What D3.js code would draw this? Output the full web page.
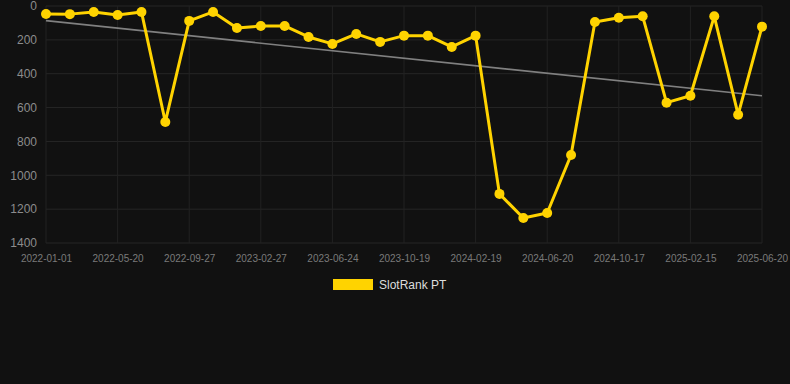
<!DOCTYPE html>
<html>
<head>
<meta charset="utf-8">
<script src="https://cdn.jsdelivr.net/npm/d3@7"></script>
<style>
html,body{margin:0;padding:0;background:#111111;}
svg{display:block;font-family:"Liberation Sans",Arial,Helvetica,sans-serif;}
</style>
</head>
<body>
<svg id="chart" width="790" height="384"></svg>
<script>
const dates = [
  "2022-01-01","2022-02-15","2022-04-02","2022-05-20","2022-07-05","2022-08-16",
  "2022-09-27","2022-11-15","2023-01-10","2023-02-27","2023-04-14","2023-05-30",
  "2023-06-24","2023-08-10","2023-09-15","2023-10-19","2023-12-01","2024-01-10",
  "2024-02-19","2024-03-30","2024-05-10","2024-06-20","2024-08-01","2024-09-10",
  "2024-10-17","2024-11-28","2025-01-05","2025-02-15","2025-03-28","2025-05-10",
  "2025-06-20"
];
const rankValues = [
  47, 48, 35, 53, 35, 685, 88, 35, 130, 118, 118, 183,
  224, 165, 212, 175, 175, 242, 175, 1110, 1252, 1223, 880, 95,
  69, 61, 571, 530, 61, 642, 122
];
const yTicks = [0, 200, 400, 600, 800, 1000, 1200, 1400];
const xTickLabels = dates.filter((d, i) => i % 3 === 0);
const seriesName = "SlotRank PT";

(function () {
const svg = d3.select("#chart");
const pl = 46, pr = 762, pt = 6, pb = 243;

const x = d3.scalePoint().domain(dates).range([pl, pr]);
const y = d3.scaleLinear().domain([0, 1400]).range([pt, pb]);

// grid
const grid = svg.append("g");
grid.selectAll("line.h").data(yTicks).enter().append("line")
  .attr("x1", pl).attr("x2", pr)
  .attr("y1", d => y(d)).attr("y2", d => y(d))
  .attr("stroke", "#262626").attr("stroke-width", 1);
grid.selectAll("line.v").data(xTickLabels).enter().append("line")
  .attr("x1", d => x(d)).attr("x2", d => x(d))
  .attr("y1", pt).attr("y2", pb)
  .attr("stroke", "#222222").attr("stroke-width", 1);

// y axis
const yAxis = d3.axisLeft(y).tickValues(yTicks).tickFormat(d => String(d)).tickSize(0).tickPadding(9);
const gy = svg.append("g").attr("transform", `translate(${pl},0)`).call(yAxis);
gy.select(".domain").remove();
gy.selectAll("text").attr("fill", "#8c8c8c").style("font-size", "12px")
  .style("font-family", "'Liberation Sans',Arial,sans-serif");

// x axis
const xAxis = d3.axisBottom(x).tickValues(xTickLabels).tickSize(0).tickPadding(12);
const gx = svg.append("g").attr("transform", `translate(0,${pb})`).call(xAxis);
gx.select(".domain").remove();
gx.selectAll("text").attr("fill", "#7a7a7a").style("font-size", "10px")
  .style("font-family", "'Liberation Sans',Arial,sans-serif");

// trend line (least squares)
const n = rankValues.length;
const idx = d3.range(n);
const mx = d3.mean(idx), my = d3.mean(rankValues);
const slope = d3.sum(idx, i => (i - mx) * (rankValues[i] - my)) / d3.sum(idx, i => (i - mx) ** 2);
const icpt = my - slope * mx;
svg.append("line")
  .attr("x1", x(dates[0])).attr("y1", y(icpt))
  .attr("x2", x(dates[n - 1])).attr("y2", y(icpt + slope * (n - 1)))
  .attr("stroke", "#808080").attr("stroke-width", 1.6);

// series line
const line = d3.line().x((d, i) => x(dates[i])).y(d => y(d));
svg.append("path").datum(rankValues)
  .attr("d", line).attr("fill", "none")
  .attr("stroke", "#FFD300").attr("stroke-width", 3).attr("stroke-linejoin", "round");

svg.append("g").selectAll("circle").data(rankValues).enter().append("circle")
  .attr("cx", (d, i) => x(dates[i])).attr("cy", d => y(d)).attr("r", 5)
  .attr("fill", "#FFD300");

// legend
const lg = svg.append("g");
lg.append("rect").attr("x", 333).attr("y", 279).attr("width", 40).attr("height", 11).attr("fill", "#FFD300");
lg.append("text").attr("x", 379).attr("y", 289).text(seriesName)
  .attr("fill", "#dddddd").style("font-size", "12px");
})();
</script>
</body>
</html>
